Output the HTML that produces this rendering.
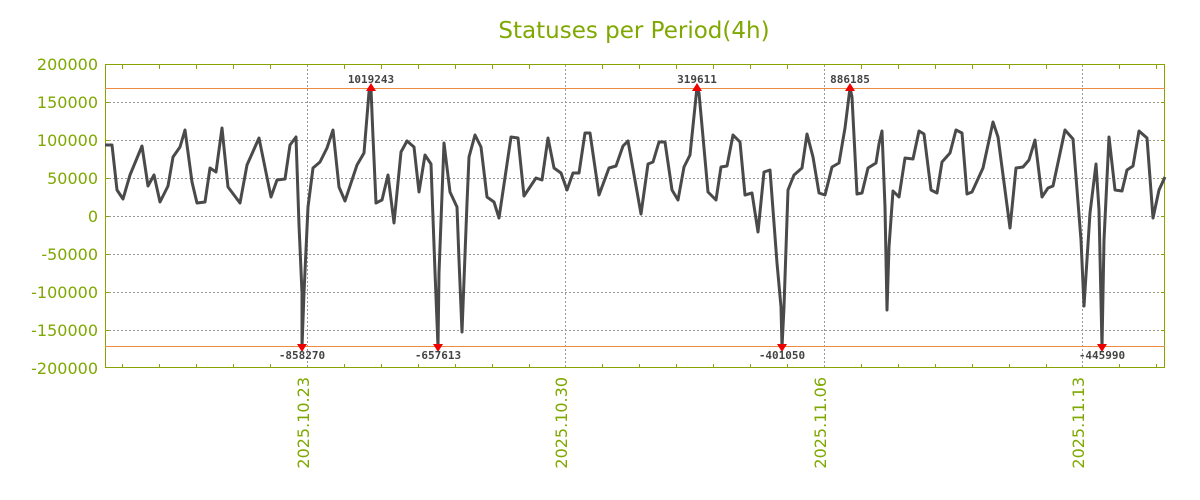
<!DOCTYPE html>
<html><head><meta charset="utf-8"><style>body{margin:0;background:#fff}svg{display:block}</style></head><body>
<svg width="1200" height="500" xmlns="http://www.w3.org/2000/svg" font-family="DejaVu Sans, sans-serif">
<rect width="1200" height="500" fill="#fff"/>
<text x="634" y="38" text-anchor="middle" font-size="23" fill="#7fa800">Statuses per Period(4h)</text>
<g stroke="#999" stroke-dasharray="2,2" stroke-width="1">
<line x1="105" x2="1165" y1="102.5" y2="102.5"/><line x1="105" x2="1165" y1="140.5" y2="140.5"/><line x1="105" x2="1165" y1="178.5" y2="178.5"/><line x1="105" x2="1165" y1="216.5" y2="216.5"/><line x1="105" x2="1165" y1="254.5" y2="254.5"/><line x1="105" x2="1165" y1="292.5" y2="292.5"/><line x1="105" x2="1165" y1="330.5" y2="330.5"/>
<line x1="307.5" x2="307.5" y1="65" y2="368"/><line x1="565.5" x2="565.5" y1="65" y2="368"/><line x1="824.5" x2="824.5" y1="65" y2="368"/><line x1="1082.5" x2="1082.5" y1="65" y2="368"/>
</g>
<g stroke="#8aa300" stroke-width="1">
<rect x="105.5" y="64.5" width="1059" height="303" fill="none"/>
<path d="M122.5 65v4M159.5 65v4M196.5 65v4M233.5 65v4M270.5 65v4M344.5 65v4M381.5 65v4M418.5 65v4M455.5 65v4M492.5 65v4M529.5 65v4M602.5 65v4M639.5 65v4M676.5 65v4M713.5 65v4M750.5 65v4M787.5 65v4M861.5 65v4M898.5 65v4M935.5 65v4M972.5 65v4M1009.5 65v4M1046.5 65v4M1119.5 65v4M1156.5 65v4
M122.5 368v-4M159.5 368v-4M196.5 368v-4M233.5 368v-4M270.5 368v-4M344.5 368v-4M381.5 368v-4M418.5 368v-4M455.5 368v-4M492.5 368v-4M529.5 368v-4M602.5 368v-4M639.5 368v-4M676.5 368v-4M713.5 368v-4M750.5 368v-4M787.5 368v-4M861.5 368v-4M898.5 368v-4M935.5 368v-4M972.5 368v-4M1009.5 368v-4M1046.5 368v-4M1119.5 368v-4M1156.5 368v-4
M105 102.5h4M105 140.5h4M105 178.5h4M105 216.5h4M105 254.5h4M105 292.5h4M105 330.5h4M1165 102.5h-4M1165 140.5h-4M1165 178.5h-4M1165 216.5h-4M1165 254.5h-4M1165 292.5h-4M1165 330.5h-4"/>
</g>
<line x1="105" x2="1165" y1="88.5" y2="88.5" stroke="#f08a40"/>
<line x1="105" x2="1165" y1="346.5" y2="346.5" stroke="#f08a40"/>
<g font-size="16" fill="#7fa800" text-anchor="end">
<text x="98" y="70">200000</text><text x="98" y="108">150000</text><text x="98" y="146">100000</text><text x="98" y="184">50000</text><text x="98" y="222">0</text><text x="98" y="260">-50000</text><text x="98" y="298">-100000</text><text x="98" y="336">-150000</text><text x="98" y="374">-200000</text>
</g>
<g font-size="16" fill="#7fa800" text-anchor="end">
<text transform="translate(309,377) rotate(-90)">2025.10.23</text>
<text transform="translate(567,377) rotate(-90)">2025.10.30</text>
<text transform="translate(826,377) rotate(-90)">2025.11.06</text>
<text transform="translate(1084,377) rotate(-90)">2025.11.13</text>
</g>
<polyline fill="none" stroke="#4a4a4a" stroke-width="3" stroke-linejoin="round" points="105,145 112,145 117,190 123,199 130,175 142,146 148,186 154,175 160,202 168,186 173,157 180,147 185,130 192,182 197,203 205,202 210,168 216,172 222,128 228,187 240,203 247,165 259,138 271,197 277,180 285,179 290,145 296,137 299,225 302,293 302,347 304,293 308,207 313,168 320,162 327,148 333,130 339,187 345,201 357,165 364,153 369,92 371,89 373,137 376,203 382,200 388,175 394,223 401,152 407,141 414,147 419,192 425,155 431,164 435,272 438,347 439,273 444,143 450,192 457,207 459,260 462,332 467,203 469,157 475,135 481,147 487,197 494,202 499,218 511,137 518,138 524,196 536,178 542,180 548,138 554,168 561,173 567,190 573,173 579,173 585,133 590,133 599,195 609,168 616,166 623,146 628,141 641,214 648,164 653,162 659,142 665,142 672,190 678,200 684,167 690,155 697,87 699,93 708,192 716,200 721,167 727,166 733,135 740,142 745,195 752,193 758,232 764,172 770,170 777,263 781,307 782,347 784,307 788,190 794,175 802,168 807,134 813,157 819,193 825,195 832,167 839,163 845,128 850,88 852,97 857,194 862,193 868,168 876,163 879,144 882,131 885,207 887,310 889,247 893,191 899,197 905,158 913,159 919,131 924,134 931,190 937,193 942,162 950,153 956,130 962,133 967,194 972,192 983,168 993,122 998,137 1010,228 1016,168 1023,167 1029,160 1035,140 1042,197 1048,188 1053,186 1065,130 1073,139 1081,240 1084,306 1090,213 1096,164 1099,210 1102,347 1104,240 1109,137 1115,190 1122,191 1127,170 1133,166 1139,131 1147,138 1153,218 1159,190 1165,177"/>
<g fill="#e00">
<path d="M371,83 l-5,8 h10z"/><path d="M697,83 l-5,8 h10z"/><path d="M850,83 l-5,8 h10z"/>
<path d="M302,352 l-5,-8 h10z"/><path d="M438,352 l-5,-8 h10z"/><path d="M782,352 l-5,-8 h10z"/><path d="M1102,352 l-5,-8 h10z"/>
</g>
<g font-family="DejaVu Sans Mono, Liberation Mono, monospace" font-size="11" font-weight="bold" fill="#444" text-anchor="middle">
<text x="371" y="83">1019243</text><text x="697" y="83">319611</text><text x="850" y="83">886185</text>
<text x="302" y="359">-858270</text><text x="438" y="359">-657613</text><text x="782" y="359">-401050</text><text x="1102" y="359">-445990</text>
</g>
</svg>
</body></html>
